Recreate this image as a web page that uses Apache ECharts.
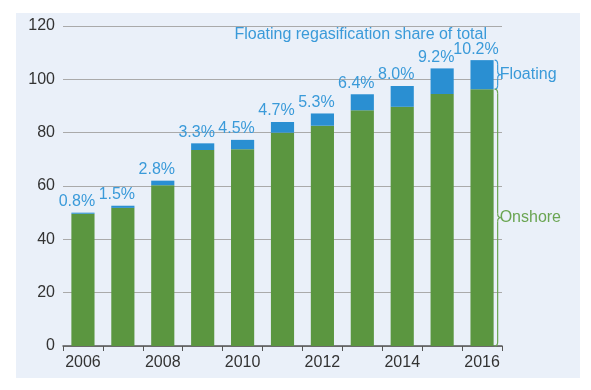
<!DOCTYPE html>
<html>
<head>
<meta charset="utf-8">
<script src="https://cdn.jsdelivr.net/npm/echarts@6/dist/echarts.min.js"></script>
<style>
html,body{margin:0;padding:0;background:#fff;}
#c{width:591px;height:390px;}
</style>
</head>
<body>
<div id="c"></div>
<script>
var years = ['2006','2007','2008','2009','2010','2011','2012','2013','2014','2015','2016'];
var onshore = [49.6, 51.8, 60.3, 73.5, 73.8, 80.0, 82.6, 88.4, 89.7, 94.5, 96.3];
var floating = [0.4, 0.8, 1.7, 2.5, 3.5, 4.0, 4.6, 6.0, 7.8, 9.6, 10.9];
var shares = ['0.8%','1.5%','2.8%','3.3%','4.5%','4.7%','5.3%','6.4%','8.0%','9.2%','10.2%'];
var yTicks = [0, 20, 40, 60, 80, 100, 120];

var GREEN = '#5b9640';
var BLUE = '#2a8fd2';
var LBLUE = '#3a9ad9';
var LGREEN = '#6aa552';
var FONT = 'Liberation Sans, Arial, sans-serif';

var chart = echarts.init(document.getElementById('c'));
chart.setOption({
  backgroundColor: '#ffffff',
  animation: false,
  title: {
    text: 'Floating regasification share of total',
    right: 99, top: 22,
    textStyle: {color: LBLUE, fontSize: 16, fontWeight: 'normal', fontFamily: FONT}
  },
  grid: {left: 63, right: 89, top: 26, bottom: 44},
  xAxis: {
    type: 'category',
    data: years,
    axisLine: {lineStyle: {color: '#555', width: 1.5}},
    axisTick: {show: true, interval: 0, length: 5, lineStyle: {color: '#555'}},
    axisLabel: {interval: 1, color: '#333', fontSize: 16, fontFamily: FONT, margin: 9}
  },
  yAxis: {
    type: 'value',
    min: yTicks[0], max: yTicks[yTicks.length - 1], interval: 20,
    axisLine: {show: false},
    axisTick: {show: false},
    axisLabel: {color: '#333', fontSize: 16, fontFamily: FONT, margin: 8},
    splitLine: {lineStyle: {color: '#aaaaaa', width: 1}}
  },
  series: [{
    name: 'Onshore', type: 'bar', stack: 'total', data: onshore,
    barWidth: '58%', itemStyle: {color: GREEN}
  }, {
    name: 'Floating', type: 'bar', stack: 'total', data: floating,
    barWidth: '58%', itemStyle: {color: BLUE},
    label: {
      show: true, position: 'top', distance: 3, offset: [-6, 0],
      color: LBLUE, fontSize: 16, fontFamily: FONT,
      formatter: function (p) { return shares[p.dataIndex]; }
    }
  }]
});

// braces beside the last bar
var last = years.length - 1;
var pBase = chart.convertToPixel({xAxisIndex: 0, yAxisIndex: 0}, [last, 0]);
var pOn = chart.convertToPixel({xAxisIndex: 0, yAxisIndex: 0}, [last, onshore[last]]);
var pTop = chart.convertToPixel({xAxisIndex: 0, yAxisIndex: 0}, [last, onshore[last] + floating[last]]);
var bandW = 40;
var x0 = pBase[0] + bandW * 0.58 / 2 + 1;

function braceEls(x, y1, y2, w, color) {
  var ym = (y1 + y2) / 2, r = Math.min(4, (y2 - y1) / 5), h = w / 2;
  var st = {stroke: color, lineWidth: 1.2, fill: 'none'};
  function q(ax, ay, cx, cy, bx, by) {
    return {type: 'bezierCurve', silent: true, z: 10,
      shape: {x1: ax, y1: ay, x2: bx, y2: by, cpx1: cx, cpy1: cy}, style: st};
  }
  function l(ax, ay, bx, by) {
    return {type: 'line', silent: true, z: 10,
      shape: {x1: ax, y1: ay, x2: bx, y2: by}, style: st};
  }
  return [
    q(x, y1, x + h, y1, x + h, y1 + r),
    l(x + h, y1 + r, x + h, ym - r),
    q(x + h, ym - r, x + h, ym, x + w, ym),
    q(x + w, ym, x + h, ym, x + h, ym + r),
    l(x + h, ym + r, x + h, y2 - r),
    q(x + h, y2 - r, x + h, y2, x, y2)
  ];
}

var g = [{
  type: 'rect', z: -100, silent: true,
  shape: {x: 16, y: 13, width: 564, height: 365},
  style: {fill: '#eaf0f9'}
}];
g = g.concat(braceEls(x0, pTop[1], pOn[1], 6, LBLUE));
g = g.concat(braceEls(x0, pOn[1], pBase[1], 6, LGREEN));
g.push({
  type: 'text', silent: true, z: 10,
  style: {text: 'Floating', x: x0 + 5, y: (pTop[1] + pOn[1]) / 2, fill: LBLUE,
    fontSize: 16, fontFamily: FONT, verticalAlign: 'middle', align: 'left'}
});
g.push({
  type: 'text', silent: true, z: 10,
  style: {text: 'Onshore', x: x0 + 5, y: (pOn[1] + pBase[1]) / 2, fill: LGREEN,
    fontSize: 16, fontFamily: FONT, verticalAlign: 'middle', align: 'left'}
});
chart.setOption({graphic: g});
</script>
</body>
</html>
